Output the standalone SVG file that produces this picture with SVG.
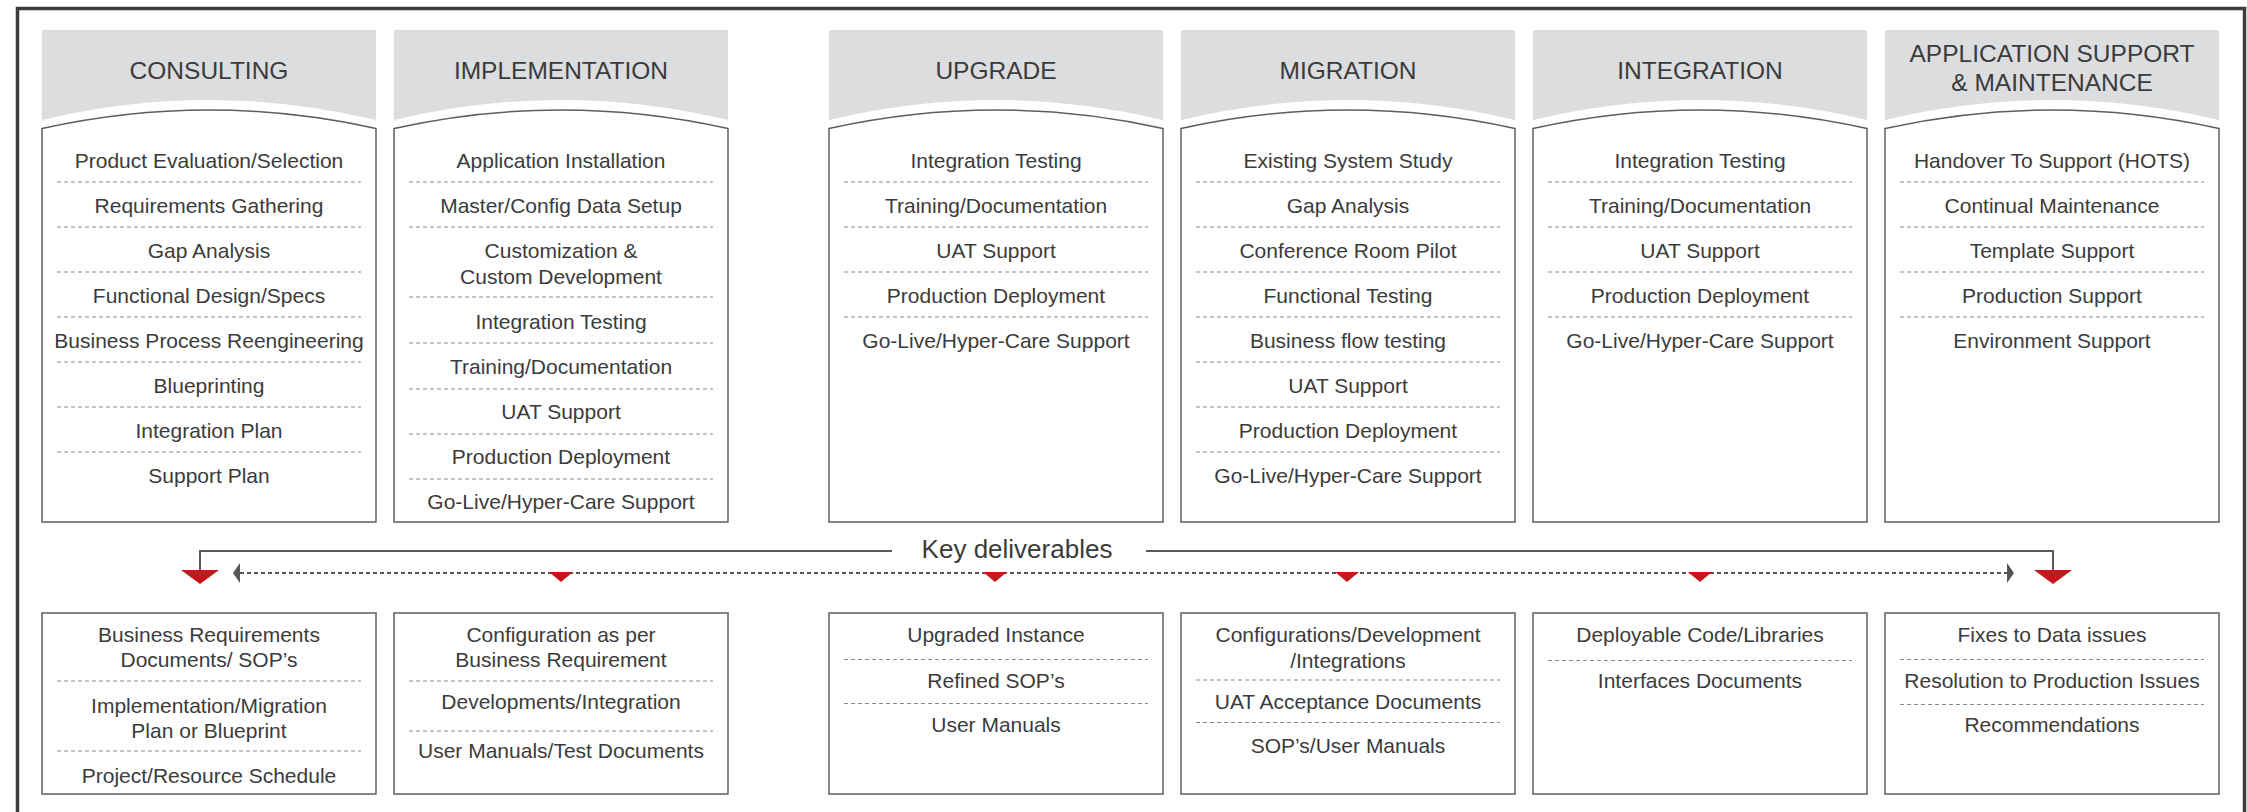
<svg xmlns="http://www.w3.org/2000/svg" width="2247" height="812" viewBox="0 0 2247 812">
<style>
.hdr{fill:#dcdddf}
.box{fill:#fff;stroke:#5e5e5e;stroke-width:1.5}
.t{font-family:"Liberation Sans",Arial,Helvetica,sans-serif;font-size:21px;fill:#3b3b3b;text-anchor:middle}
.h{font-size:24.5px}
.k{font-size:26px}
.d{stroke:#8a8a8a;stroke-width:1.2;stroke-dasharray:4 3;fill:none}
.red{fill:#c4161c}
.ln{stroke:#5a5a5a;stroke-width:2;fill:none}
.dl{stroke:#555;stroke-width:2;stroke-dasharray:4 3;fill:none}
.ah{fill:#555}
</style>
<rect width="2247" height="812" fill="#fff"/>
<rect x="17.5" y="8.5" width="2227" height="830" fill="none" stroke="#3d3d3d" stroke-width="3.5"/>

<!-- Upper columns -->
<g id="consulting" transform="translate(42,0)">
<path class="hdr" d="M0,30 H334 V120 Q167,80 0,120 Z"/>
<path class="box" d="M0,128.5 Q167,91.5 334,128.5 V522 H0 Z"/>
<text class="t h" x="167" y="79">CONSULTING</text>
<text class="t" x="167" y="168">Product Evaluation/Selection</text>
<text class="t" x="167" y="213">Requirements Gathering</text>
<text class="t" x="167" y="258">Gap Analysis</text>
<text class="t" x="167" y="303">Functional Design/Specs</text>
<text class="t" x="167" y="348">Business Process Reengineering</text>
<text class="t" x="167" y="393">Blueprinting</text>
<text class="t" x="167" y="438">Integration Plan</text>
<text class="t" x="167" y="483">Support Plan</text>
<path class="d" d="M15,182H319M15,227H319M15,272H319M15,317H319M15,362H319M15,407H319M15,452H319"/>
</g>

<g id="implementation" transform="translate(394,0)">
<path class="hdr" d="M0,30 H334 V120 Q167,80 0,120 Z"/>
<path class="box" d="M0,128.5 Q167,91.5 334,128.5 V522 H0 Z"/>
<text class="t h" x="167" y="79">IMPLEMENTATION</text>
<text class="t" x="167" y="168">Application Installation</text>
<text class="t" x="167" y="213">Master/Config Data Setup</text>
<text class="t" x="167" y="258">Customization &amp;</text>
<text class="t" x="167" y="284">Custom Development</text>
<text class="t" x="167" y="329">Integration Testing</text>
<text class="t" x="167" y="374">Training/Documentation</text>
<text class="t" x="167" y="419">UAT Support</text>
<text class="t" x="167" y="464">Production Deployment</text>
<text class="t" x="167" y="509">Go-Live/Hyper-Care Support</text>
<path class="d" d="M15,182H319M15,227H319M15,297H319M15,343H319M15,389H319M15,434H319M15,479H319"/>
</g>

<g id="upgrade" transform="translate(829,0)">
<path class="hdr" d="M0,30 H334 V120 Q167,80 0,120 Z"/>
<path class="box" d="M0,128.5 Q167,91.5 334,128.5 V522 H0 Z"/>
<text class="t h" x="167" y="79">UPGRADE</text>
<text class="t" x="167" y="168">Integration Testing</text>
<text class="t" x="167" y="213">Training/Documentation</text>
<text class="t" x="167" y="258">UAT Support</text>
<text class="t" x="167" y="303">Production Deployment</text>
<text class="t" x="167" y="348">Go-Live/Hyper-Care Support</text>
<path class="d" d="M15,182H319M15,227H319M15,272H319M15,317H319"/>
</g>

<g id="migration" transform="translate(1181,0)">
<path class="hdr" d="M0,30 H334 V120 Q167,80 0,120 Z"/>
<path class="box" d="M0,128.5 Q167,91.5 334,128.5 V522 H0 Z"/>
<text class="t h" x="167" y="79">MIGRATION</text>
<text class="t" x="167" y="168">Existing System Study</text>
<text class="t" x="167" y="213">Gap Analysis</text>
<text class="t" x="167" y="258">Conference Room Pilot</text>
<text class="t" x="167" y="303">Functional Testing</text>
<text class="t" x="167" y="348">Business flow testing</text>
<text class="t" x="167" y="393">UAT Support</text>
<text class="t" x="167" y="438">Production Deployment</text>
<text class="t" x="167" y="483">Go-Live/Hyper-Care Support</text>
<path class="d" d="M15,182H319M15,227H319M15,272H319M15,317H319M15,362H319M15,407H319M15,452H319"/>
</g>

<g id="integration" transform="translate(1533,0)">
<path class="hdr" d="M0,30 H334 V120 Q167,80 0,120 Z"/>
<path class="box" d="M0,128.5 Q167,91.5 334,128.5 V522 H0 Z"/>
<text class="t h" x="167" y="79">INTEGRATION</text>
<text class="t" x="167" y="168">Integration Testing</text>
<text class="t" x="167" y="213">Training/Documentation</text>
<text class="t" x="167" y="258">UAT Support</text>
<text class="t" x="167" y="303">Production Deployment</text>
<text class="t" x="167" y="348">Go-Live/Hyper-Care Support</text>
<path class="d" d="M15,182H319M15,227H319M15,272H319M15,317H319"/>
</g>

<g id="app-support" transform="translate(1885,0)">
<path class="hdr" d="M0,30 H334 V120 Q167,80 0,120 Z"/>
<path class="box" d="M0,128.5 Q167,91.5 334,128.5 V522 H0 Z"/>
<text class="t h" x="167" y="62">APPLICATION SUPPORT</text>
<text class="t h" x="167" y="91">&amp; MAINTENANCE</text>
<text class="t" x="167" y="168">Handover To Support (HOTS)</text>
<text class="t" x="167" y="213">Continual Maintenance</text>
<text class="t" x="167" y="258">Template Support</text>
<text class="t" x="167" y="303">Production Support</text>
<text class="t" x="167" y="348">Environment Support</text>
<path class="d" d="M15,182H319M15,227H319M15,272H319M15,317H319"/>
</g>

<!-- Connectors -->
<g id="connectors">
<path class="ln" d="M200,570 V551 H892"/>
<path class="ln" d="M1146,551 H2053 V570"/>
<text class="t k" x="1017" y="558">Key deliverables</text>
<path class="dl" d="M240,573 H2007"/>
<polygon class="ah" points="233,573 240,563 240,583"/>
<polygon class="ah" points="2014,573 2007,563 2007,583"/>
<polygon class="red" points="181,570 219,570 200,584"/>
<polygon class="red" points="2034,570 2072,570 2053,584"/>
<polygon class="red" points="549,572 573,572 561,582"/>
<polygon class="red" points="983,572 1007,572 995,582"/>
<polygon class="red" points="1335,572 1359,572 1347,582"/>
<polygon class="red" points="1688,572 1712,572 1700,582"/>
</g>

<!-- Deliverable boxes -->
<g id="del-consulting" transform="translate(42,0)">
<rect class="box" x="0" y="613" width="334" height="181"/>
<text class="t" x="167" y="641.5">Business Requirements</text>
<text class="t" x="167" y="666.5">Documents/ SOP’s</text>
<text class="t" x="167" y="712.5">Implementation/Migration</text>
<text class="t" x="167" y="738">Plan or Blueprint</text>
<text class="t" x="167" y="783">Project/Resource Schedule</text>
<path class="d" d="M15,681H319M15,751H319"/>
</g>

<g id="del-implementation" transform="translate(394,0)">
<rect class="box" x="0" y="613" width="334" height="181"/>
<text class="t" x="167" y="641.5">Configuration as per</text>
<text class="t" x="167" y="666.5">Business Requirement</text>
<text class="t" x="167" y="708.5">Developments/Integration</text>
<text class="t" x="167" y="758">User Manuals/Test Documents</text>
<path class="d" d="M15,681H319M15,731H319"/>
</g>

<g id="del-upgrade" transform="translate(829,0)">
<rect class="box" x="0" y="613" width="334" height="181"/>
<text class="t" x="167" y="641.5">Upgraded Instance</text>
<text class="t" x="167" y="687.5">Refined SOP’s</text>
<text class="t" x="167" y="732">User Manuals</text>
<path class="d" d="M15,659.5H319M15,703.5H319"/>
</g>

<g id="del-migration" transform="translate(1181,0)">
<rect class="box" x="0" y="613" width="334" height="181"/>
<text class="t" x="167" y="641.5">Configurations/Development</text>
<text class="t" x="167" y="667.5">/Integrations</text>
<text class="t" x="167" y="708.5">UAT Acceptance Documents</text>
<text class="t" x="167" y="753">SOP’s/User Manuals</text>
<path class="d" d="M15,680H319M15,722.5H319"/>
</g>

<g id="del-integration" transform="translate(1533,0)">
<rect class="box" x="0" y="613" width="334" height="181"/>
<text class="t" x="167" y="641.5">Deployable Code/Libraries</text>
<text class="t" x="167" y="687.5">Interfaces Documents</text>
<path class="d" d="M15,660.5H319"/>
</g>

<g id="del-app-support" transform="translate(1885,0)">
<rect class="box" x="0" y="613" width="334" height="181"/>
<text class="t" x="167" y="641.5">Fixes to Data issues</text>
<text class="t" x="167" y="687.5">Resolution to Production Issues</text>
<text class="t" x="167" y="732">Recommendations</text>
<path class="d" d="M15,659.5H319M15,704.5H319"/>
</g>
</svg>
